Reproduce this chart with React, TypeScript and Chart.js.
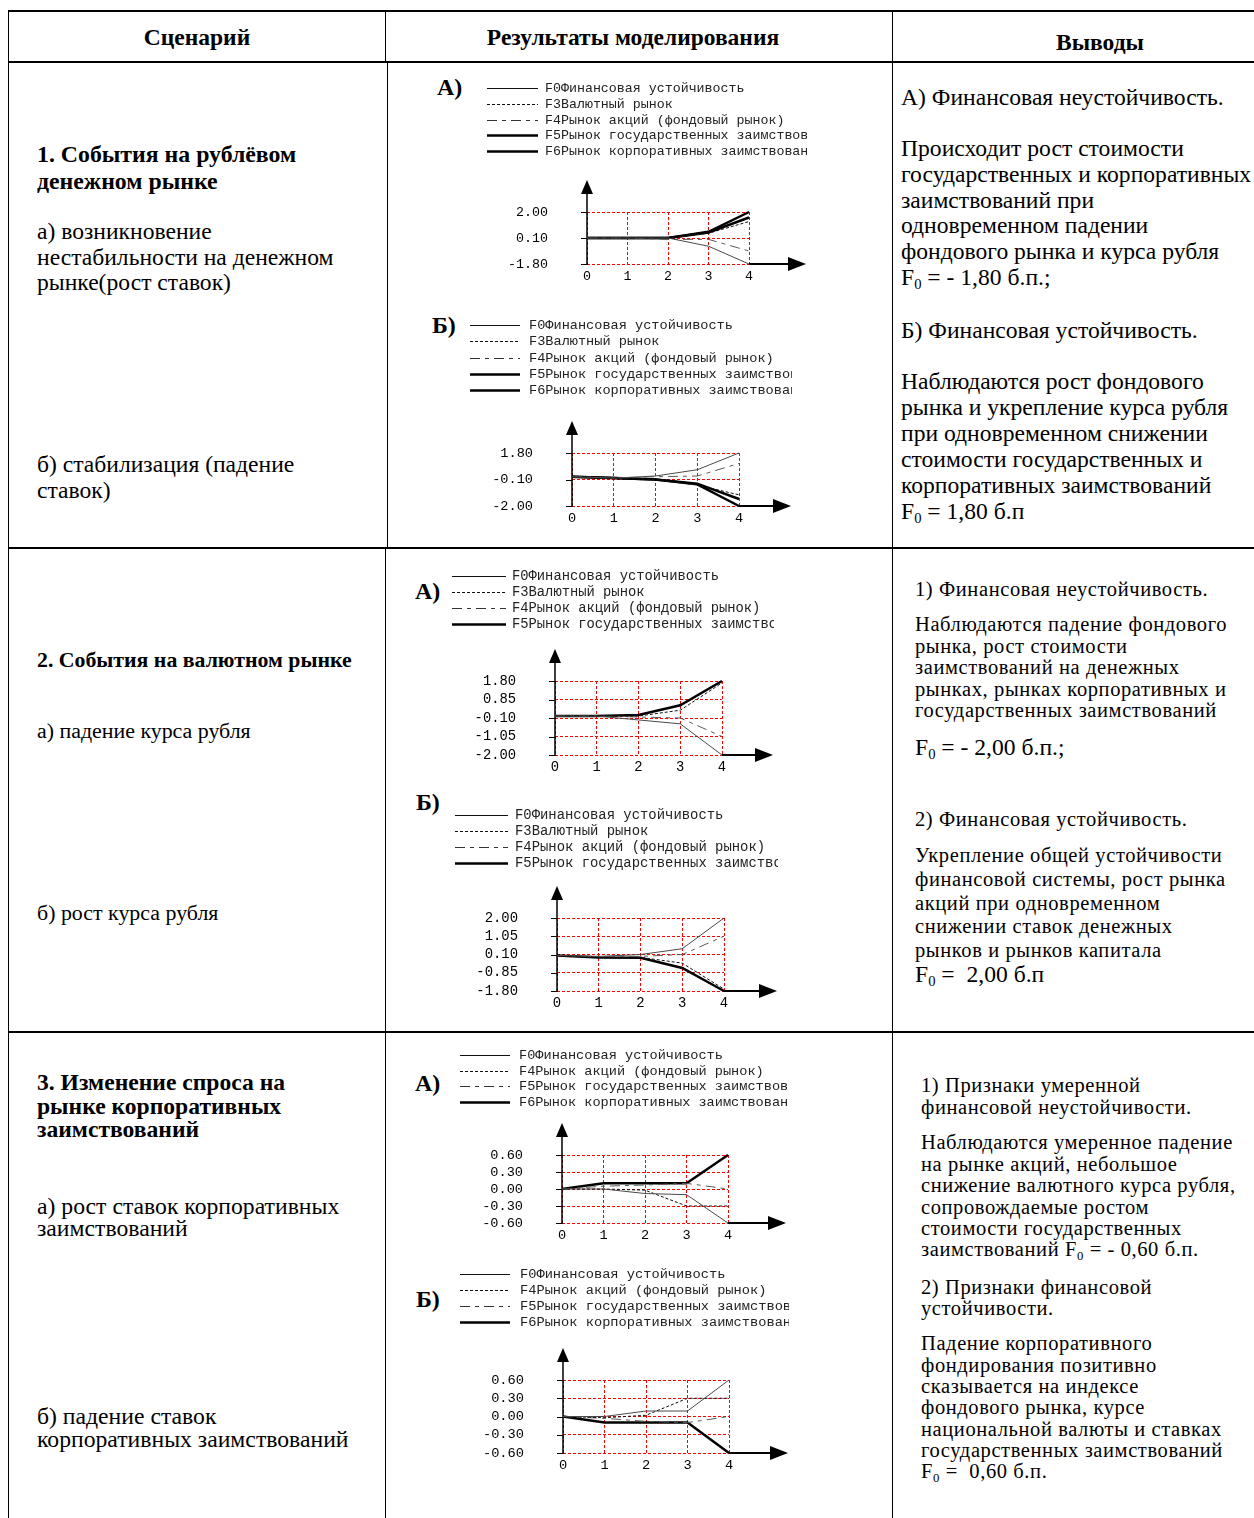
import React, { useEffect, useRef } from 'react';
import { Chart, registerables } from 'chart.js';

Chart.register(...registerables);

// Modelling steps on the horizontal axis
const STEP_LABELS = ['0', '1', '2', '3', '4'];

// Series names
const F0_NAME = 'F0Финансовая устойчивость';
const F3_NAME = 'F3Валютный рынок';
const F4_NAME = 'F4Рынок акций (фондовый рынок)';
const F5_NAME = 'F5Рынок государственных заимствований';
const F6_NAME = 'F6Рынок корпоративных заимствований';

// 1А — instability on the rouble money market (rates up)
const moneyUpF0 = [0.1, 0.1, 0.1, -0.5, -1.8];
const moneyUpF3 = [0.1, 0.1, 0.1, 0.45, 1.3];
const moneyUpF4 = [0.1, 0.1, 0.0, 0.0, -0.85];
const moneyUpF5 = [0.1, 0.1, 0.1, 0.5, 1.6];
const moneyUpF6 = [0.1, 0.1, 0.1, 0.55, 2.0];
const moneyUpTicks = [-1.8, 0.1, 2.0];

// 1Б — stabilisation (rates down)
const moneyDownF0 = [0.1, 0.0, 0.15, 0.6, 1.8];
const moneyDownF3 = [0.1, 0.0, -0.1, -0.5, -1.2];
const moneyDownF4 = [0.1, 0.0, 0.1, 0.15, 1.05];
const moneyDownF5 = [0.1, 0.0, -0.1, -0.4, -1.5];
const moneyDownF6 = [0.1, 0.0, -0.1, -0.45, -2.0];
const moneyDownTicks = [-2.0, -0.1, 1.8];

// 2А — rouble depreciation
const fxFallF0 = [0.0, 0.0, -0.2, -0.4, -2.0];
const fxFallF3 = [0.0, 0.0, 0.0, 0.3, 1.7];
const fxFallF4 = [0.0, 0.0, -0.05, -0.1, -1.05];
const fxFallF5 = [0.0, 0.0, 0.05, 0.55, 1.8];
const fxFallTicks = [-2.0, -1.05, -0.1, 0.85, 1.8];

// 2Б — rouble appreciation
const fxRiseF0 = [0.05, 0.0, 0.1, 0.4, 2.0];
const fxRiseF3 = [0.05, -0.05, -0.05, -0.35, -1.7];
const fxRiseF4 = [0.05, 0.0, 0.0, 0.1, 1.05];
const fxRiseF5 = [0.05, -0.05, -0.07, -0.6, -1.8];
const fxRiseTicks = [-1.8, -0.85, 0.1, 1.05, 2.0];

// 3А — corporate borrowing rates up
const corpUpF0 = [0.0, 0.0, -0.08, -0.1, -0.6];
const corpUpF4 = [0.0, 0.0, -0.02, -0.3, -0.3];
const corpUpF5 = [0.0, 0.05, 0.07, 0.1, 0.0];
const corpUpF6 = [0.0, 0.1, 0.1, 0.1, 0.6];
const corpUpTicks = [-0.6, -0.3, 0.0, 0.3, 0.6];

// 3Б — corporate borrowing rates down
const corpDownF0 = [0.0, 0.0, 0.09, 0.09, 0.6];
const corpDownF4 = [0.0, -0.02, 0.02, 0.3, 0.3];
const corpDownF5 = [0.0, -0.03, -0.08, -0.1, 0.0];
const corpDownF6 = [0.0, -0.1, -0.1, -0.1, -0.6];
const corpDownTicks = [-0.6, -0.3, 0.0, 0.3, 0.6];

// Line look by position in the key: thin, dotted, dash-dot, thick, thick
const LINE_STYLES = [
  { plot: '#4a4a4a', key: '#111', width: 1, dash: [] as number[] },
  { plot: '#111', key: '#111', width: 1, dash: [3, 2] },
  { plot: '#5a5a5a', key: '#333', width: 1, dash: [10, 5, 4, 5] },
  { plot: '#000', key: '#000', width: 2.5, dash: [] as number[] },
  { plot: '#000', key: '#000', width: 2.5, dash: [] as number[] },
];

const MONO = '"Liberation Mono", "Courier New", monospace';
const SERIF = '"Liberation Serif", "Times New Roman", serif';

// Axis lines with arrowheads and the short value ticks (over the grid, under the series)
const axesArrows = {
  id: 'axesArrows',
  beforeDatasetsDraw(chart: any, _args: any, opts: any) {
    const { ctx, chartArea, scales } = chart;
    const { left, right, top, bottom } = chartArea;
    const tipY = top - opts.rise;
    const endX = chart.width - 1;
    ctx.save();
    ctx.setLineDash([]);
    ctx.strokeStyle = '#000';
    ctx.fillStyle = '#000';
    // value ticks on the left of the vertical axis
    ctx.lineWidth = 1;
    scales.y.ticks.forEach((t: any) => {
      const y = Math.round(scales.y.getPixelForValue(t.value)) + 0.5;
      ctx.beginPath();
      ctx.moveTo(left - 6, y);
      ctx.lineTo(left, y);
      ctx.stroke();
    });
    ctx.lineWidth = 1.5;
    ctx.beginPath();
    ctx.moveTo(left, bottom + 1);
    ctx.lineTo(left, tipY + 10);
    ctx.stroke();
    ctx.beginPath();
    ctx.moveTo(left, tipY);
    ctx.lineTo(left - 6, tipY + 14);
    ctx.lineTo(left + 6, tipY + 14);
    ctx.closePath();
    ctx.fill();
    ctx.lineWidth = 2;
    ctx.beginPath();
    ctx.moveTo(right, bottom);
    ctx.lineTo(endX - 12, bottom);
    ctx.stroke();
    ctx.beginPath();
    ctx.moveTo(endX, bottom);
    ctx.lineTo(endX - 18, bottom - 7);
    ctx.lineTo(endX - 18, bottom + 7);
    ctx.closePath();
    ctx.fill();
    ctx.restore();
  },
};

// Key of series, one per row, above the plot
const seriesKey = {
  id: 'seriesKey',
  afterDraw(chart: any, _args: any, opts: any) {
    const { ctx } = chart;
    ctx.save();
    ctx.font = `${opts.size}px ${MONO}`;
    ctx.textBaseline = 'middle';
    ctx.textAlign = 'left';
    chart.data.datasets.forEach((ds: any, i: number) => {
      const y = Math.round(opts.y0 + i * opts.step) + 0.5;
      const st = LINE_STYLES[i];
      ctx.strokeStyle = st.key;
      ctx.lineWidth = st.width;
      ctx.setLineDash(st.dash);
      ctx.beginPath();
      ctx.moveTo(opts.x1, y);
      ctx.lineTo(opts.x2, y);
      ctx.stroke();
      ctx.fillStyle = '#222';
      ctx.fillText(ds.label, opts.tx, y);
    });
    ctx.restore();
  },
};

type Geo = {
  left: number; top: number; right: number; bottom: number;
  x0: number; x4: number; yTop: number; yBottom: number;
  keyX1: number; keyX2: number; keyText: number; keyY0: number; keyStep: number;
  font: number; letterX: number; letterY: number;
};

type PanelProps = { letter: string; names: string[]; series: number[][]; ticks: number[]; geo: Geo };

function Panel({ letter, names, series, ticks, geo }: PanelProps) {
  const ref = useRef<HTMLCanvasElement>(null);
  const w = geo.right - geo.left;
  const h = geo.bottom - geo.top;
  useEffect(() => {
    if (!ref.current) return;
    const font = { family: MONO, size: geo.font };
    const chart = new Chart(ref.current, {
      type: 'line',
      data: {
        labels: STEP_LABELS,
        datasets: series.map((s, i) => ({
          label: names[i],
          data: s,
          borderColor: LINE_STYLES[i].plot,
          borderWidth: LINE_STYLES[i].width,
          borderDash: LINE_STYLES[i].dash,
          pointRadius: 0,
          tension: 0,
          fill: false,
          clip: false as any,
        })),
      },
      options: {
        animation: false,
        responsive: false,
        events: [],
        layout: {
          padding: { top: geo.yTop - geo.top, right: geo.right - geo.x4, bottom: 0, left: 0 },
        },
        plugins: {
          legend: { display: false },
          tooltip: { enabled: false },
          axesArrows: { rise: 32 },
          seriesKey: {
            x1: geo.keyX1 - geo.left,
            x2: geo.keyX2 - geo.left,
            tx: geo.keyText - geo.left,
            y0: geo.keyY0 - geo.top,
            step: geo.keyStep,
            size: geo.font,
          },
        } as any,
        scales: {
          x: {
            type: 'category',
            offset: false,
            grid: { color: '#ff0000', lineWidth: 1, drawTicks: false },
            border: { display: false, dash: [3, 2] },
            ticks: { font, color: '#000', padding: 4, maxRotation: 0, autoSkip: false },
            afterFit: (s: any) => { s.height = geo.bottom - geo.yBottom; },
          },
          y: {
            type: 'linear',
            min: ticks[0],
            max: ticks[ticks.length - 1],
            afterBuildTicks: (s: any) => { s.ticks = ticks.map((v) => ({ value: v })); },
            grid: { color: '#ff0000', lineWidth: 1, drawTicks: true, tickLength: 39, tickColor: 'rgba(0,0,0,0)' },
            border: { display: false, dash: [3, 2] },
            ticks: { font, color: '#000', padding: 0, autoSkip: false, callback: (v: any) => Number(v).toFixed(2) },
            afterFit: (s: any) => {
              s.width = geo.x0 - geo.left;
              s.paddingTop = 8;
              s.paddingBottom = 8;
            },
          },
        } as any,
      },
      plugins: [axesArrows, seriesKey],
    });
    return () => chart.destroy();
  }, []);
  return (
    <>
      <div style={{ position: 'absolute', left: geo.letterX, top: geo.letterY - 14, lineHeight: '28px', fontFamily: SERIF, fontWeight: 700, fontSize: 24 }}>{letter}</div>
      <canvas ref={ref} width={w} height={h} style={{ position: 'absolute', left: geo.left, top: geo.top, width: w, height: h }} />
    </>
  );
}

const F0 = (
  <>F<sub style={{ fontSize: '0.62em', verticalAlign: '-0.3em', lineHeight: 0 }}>0</sub></>
);

type LinesProps = { x: number; y: number; lh: number; size: number; bold?: boolean; ls?: number; rows: React.ReactNode[] };

function Lines({ x, y, lh, size, bold = false, ls = 0, rows }: LinesProps) {
  return (
    <div style={{ position: 'absolute', left: x, top: y - lh / 2, fontFamily: SERIF, fontSize: size, lineHeight: `${lh}px`, fontWeight: bold ? 700 : 400, letterSpacing: ls, whiteSpace: 'nowrap', color: '#000' }}>
      {rows.map((r, i) => <div key={i}>{r}</div>)}
    </div>
  );
}

function Head({ cx, y, text }: { cx: number; y: number; text: string }) {
  return (
    <div style={{ position: 'absolute', left: cx, top: y - 14, transform: 'translateX(-50%)', fontFamily: SERIF, fontWeight: 700, fontSize: 23.5, lineHeight: '28px', whiteSpace: 'nowrap' }}>{text}</div>
  );
}

function Rule({ x, y, w, h }: { x: number; y: number; w: number; h: number }) {
  return <div style={{ position: 'absolute', left: x, top: y, width: w, height: h, background: '#000' }} />;
}

const geoMoneyUp: Geo = { left: 484, top: 76, right: 807, bottom: 288, x0: 587, x4: 749, yTop: 212, yBottom: 264, keyX1: 487, keyX2: 538, keyText: 545, keyY0: 88, keyStep: 15.75, font: 13.3, letterX: 437, letterY: 87 };
const geoMoneyDown: Geo = { left: 467, top: 313, right: 792, bottom: 530, x0: 572, x4: 739, yTop: 453, yBottom: 506, keyX1: 470, keyX2: 520, keyText: 529, keyY0: 325, keyStep: 16.25, font: 13.6, letterX: 432, letterY: 325 };
const geoFxFall: Geo = { left: 449, top: 564, right: 774, bottom: 779, x0: 555, x4: 722, yTop: 681, yBottom: 755, keyX1: 452, keyX2: 506, keyText: 512, keyY0: 576, keyStep: 16, font: 13.8, letterX: 415, letterY: 591 };
const geoFxRise: Geo = { left: 452, top: 803, right: 778, bottom: 1015, x0: 557, x4: 724, yTop: 918, yBottom: 991, keyX1: 455, keyX2: 508, keyText: 515, keyY0: 815, keyStep: 16, font: 13.9, letterX: 416, letterY: 802 };
const geoCorpUp: Geo = { left: 457, top: 1043, right: 787, bottom: 1247, x0: 562, x4: 728, yTop: 1155, yBottom: 1223, keyX1: 460, keyX2: 510, keyText: 519, keyY0: 1055, keyStep: 15.7, font: 13.6, letterX: 415, letterY: 1083 };
const geoCorpDown: Geo = { left: 457, top: 1262, right: 789, bottom: 1477, x0: 563, x4: 729, yTop: 1380, yBottom: 1453, keyX1: 460, keyX2: 510, keyText: 520, keyY0: 1274, keyStep: 16, font: 13.7, letterX: 416, letterY: 1299 };

export default function App() {
  return (
    <div style={{ position: 'absolute', left: 0, top: 0, width: 1254, height: 1518, background: '#fff', overflow: 'hidden' }}>
      {/* table rules */}
      <Rule x={8} y={10} w={1246} h={1.5} />
      <Rule x={8} y={61} w={1246} h={2} />
      <Rule x={8} y={547} w={1246} h={1.5} />
      <Rule x={8} y={1031} w={1246} h={1.5} />
      <Rule x={7.5} y={10} w={1.5} h={1508} />
      <Rule x={384.5} y={10} w={1.5} h={52} />
      <Rule x={386.5} y={62} w={1.5} h={486} />
      <Rule x={384.5} y={547} w={1.5} h={971} />
      <Rule x={891.5} y={10} w={1.5} h={1508} />

      <Head cx={197} y={37} text="Сценарий" />
      <Head cx={633} y={37} text="Результаты моделирования" />
      <Head cx={1100} y={42} text="Выводы" />

      {/* scenarios */}
      <Lines x={37} y={154} lh={27} size={23.8} bold rows={['1. События на рублёвом', 'денежном рынке']} />
      <Lines x={37} y={232} lh={25.5} size={23.6} rows={['а) возникновение', 'нестабильности на денежном', 'рынке(рост ставок)']} />
      <Lines x={37} y={464} lh={26} size={23.6} rows={['б) стабилизация (падение', 'ставок)']} />
      <Lines x={37} y={660} lh={24} size={21.8} bold rows={['2. События на валютном рынке']} />
      <Lines x={37} y={731} lh={24} size={21.9} rows={['а) падение курса рубля']} />
      <Lines x={37} y={913} lh={24} size={21.9} rows={['б) рост курса рубля']} />
      <Lines x={37} y={1083} lh={23.5} size={23.6} bold rows={['3. Изменение спроса на', 'рынке корпоративных', 'заимствований']} />
      <Lines x={37} y={1206} lh={22} size={23.7} rows={['а) рост ставок корпоративных', 'заимствований']} />
      <Lines x={37} y={1416} lh={23} size={23.7} rows={['б) падение ставок', 'корпоративных заимствований']} />

      {/* modelling results */}
      <Panel letter="А)" names={[F0_NAME, F3_NAME, F4_NAME, F5_NAME, F6_NAME]} series={[moneyUpF0, moneyUpF3, moneyUpF4, moneyUpF5, moneyUpF6]} ticks={moneyUpTicks} geo={geoMoneyUp} />
      <Panel letter="Б)" names={[F0_NAME, F3_NAME, F4_NAME, F5_NAME, F6_NAME]} series={[moneyDownF0, moneyDownF3, moneyDownF4, moneyDownF5, moneyDownF6]} ticks={moneyDownTicks} geo={geoMoneyDown} />
      <Panel letter="А)" names={[F0_NAME, F3_NAME, F4_NAME, F5_NAME]} series={[fxFallF0, fxFallF3, fxFallF4, fxFallF5]} ticks={fxFallTicks} geo={geoFxFall} />
      <Panel letter="Б)" names={[F0_NAME, F3_NAME, F4_NAME, F5_NAME]} series={[fxRiseF0, fxRiseF3, fxRiseF4, fxRiseF5]} ticks={fxRiseTicks} geo={geoFxRise} />
      <Panel letter="А)" names={[F0_NAME, F4_NAME, F5_NAME, F6_NAME]} series={[corpUpF0, corpUpF4, corpUpF5, corpUpF6]} ticks={corpUpTicks} geo={geoCorpUp} />
      <Panel letter="Б)" names={[F0_NAME, F4_NAME, F5_NAME, F6_NAME]} series={[corpDownF0, corpDownF4, corpDownF5, corpDownF6]} ticks={corpDownTicks} geo={geoCorpDown} />

      {/* conclusions */}
      <Lines x={901} y={97} lh={26} size={23.6} rows={['А) Финансовая неустойчивость.']} />
      <Lines x={901} y={149} lh={25.8} size={23.6} rows={['Происходит рост стоимости', 'государственных и корпоративных', 'заимствований при', 'одновременном падении', 'фондового рынка и курса рубля', <>{F0} = - 1,80 б.п.;</>]} />
      <Lines x={901} y={330} lh={26} size={23.6} rows={['Б) Финансовая устойчивость.']} />
      <Lines x={901} y={381} lh={26} size={23.6} rows={['Наблюдаются рост фондового', 'рынка и укрепление курса рубля', 'при одновременном снижении', 'стоимости государственных и', 'корпоративных заимствований', <>{F0} = 1,80 б.п</>]} />

      <Lines x={915} y={589} lh={22} size={20.5} ls={0.6} rows={['1) Финансовая неустойчивость.']} />
      <Lines x={915} y={625} lh={21.5} size={20.5} ls={0.6} rows={['Наблюдаются падение фондового', 'рынка, рост стоимости', 'заимствований на денежных', 'рынках, рынках корпоративных и', 'государственных заимствований']} />
      <Lines x={915} y={747} lh={24} size={23.6} rows={[<>{F0} = - 2,00 б.п.;</>]} />
      <Lines x={915} y={819} lh={22} size={20.5} ls={0.6} rows={['2) Финансовая устойчивость.']} />
      <Lines x={915} y={856} lh={23.8} size={20.5} ls={0.6} rows={['Укрепление общей устойчивости', 'финансовой системы, рост рынка', 'акций при одновременном', 'снижении ставок денежных', 'рынков и рынков капитала', <span style={{ fontSize: 23.6, letterSpacing: 0 }}>{F0} =&nbsp; 2,00 б.п</span>]} />

      <Lines x={921} y={1086} lh={21.5} size={20.5} ls={0.6} rows={['1) Признаки умеренной', 'финансовой неустойчивости.']} />
      <Lines x={921} y={1143} lh={21.4} size={20.5} ls={0.6} rows={['Наблюдаются умеренное падение', 'на рынке акций, небольшое', 'снижение валютного курса рубля,', 'сопровождаемые ростом', 'стоимости государственных', <>заимствований {F0} = - 0,60 б.п.</>]} />
      <Lines x={921} y={1287} lh={21} size={20.5} ls={0.6} rows={['2) Признаки финансовой', 'устойчивости.']} />
      <Lines x={921} y={1344} lh={21.3} size={20.5} ls={0.6} rows={['Падение корпоративного', 'фондирования позитивно', 'сказывается на индексе', 'фондового рынка, курсе', 'национальной валюты и ставках', 'государственных заимствований', <>{F0} =&nbsp; 0,60 б.п.</>]} />
    </div>
  );
}
